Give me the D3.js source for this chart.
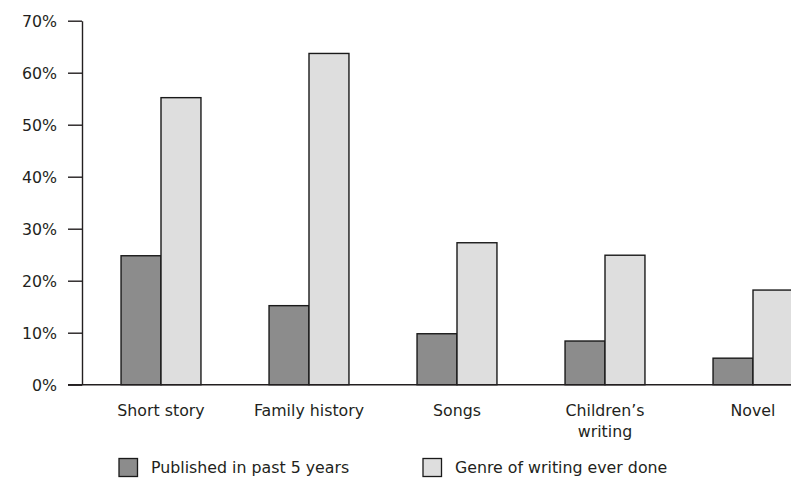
<!DOCTYPE html>
<html>
<head>
<meta charset="utf-8">
<script src="https://d3js.org/d3.v7.min.js"></script>
<style>
  body { margin: 0; background: #fff; }
  svg text { font-family: "DejaVu Sans", sans-serif; fill: #231f20; }
</style>
</head>
<body>
<svg id="chart"></svg>
<script>
// data
const categories = ["Short story", "Family history", "Songs", "Children\u2019s writing", "Novel"];
const seriesNames = ["Published in past 5 years", "Genre of writing ever done"];
const published = [24.8, 15.2, 9.8, 8.4, 5.1];
const everDone = [55.2, 63.7, 27.3, 24.9, 18.2];
const yTicks = [0, 10, 20, 30, 40, 50, 60, 70];
const colors = ["#8c8c8c", "#dedede"];

const width = 791, height = 481;
const margin = {top: 20.7, left: 82, bottom: 96.3};
const innerH = height - margin.top - margin.bottom;
const fontSize = "15.8px";

const svg = d3.select("#chart").attr("width", width).attr("height", height);

const y = d3.scaleLinear().domain([0, 70]).range([margin.top + innerH, margin.top]);
const x = d3.scaleBand().domain(categories).range([87, 827])
    .paddingInner(0.46).paddingOuter(0.23);
const xSub = d3.scaleBand().domain(seriesNames).range([0, x.bandwidth()]);

const rows = categories.map((c, i) => ({cat: c, values: [published[i], everDone[i]]}));

// bars
const groups = svg.selectAll("g.cat").data(rows).enter().append("g")
    .attr("class", "cat")
    .attr("transform", d => `translate(${x(d.cat)},0)`);

groups.selectAll("rect").data(d => d.values.map((v, i) => ({name: seriesNames[i], v: v, i: i})))
    .enter().append("rect")
    .attr("x", d => xSub(d.name))
    .attr("y", d => y(d.v))
    .attr("width", xSub.bandwidth())
    .attr("height", d => y(0) - y(d.v))
    .attr("fill", d => colors[d.i])
    .attr("stroke", "#1a1a1a")
    .attr("stroke-width", 1.4);

// y axis
const yAxis = d3.axisLeft(y).tickValues(yTicks).tickFormat(d => d + "%").tickSize(14).tickSizeOuter(0);
const yG = svg.append("g").attr("transform", `translate(${margin.left},0)`).call(yAxis);
yG.select(".domain").attr("stroke", "#231f20").attr("stroke-width", 1.4);
yG.selectAll(".tick line").attr("stroke", "#231f20").attr("stroke-width", 1.4);
yG.selectAll(".tick text").attr("x", -25).attr("dy", "0.35em")
    .style("font-size", fontSize);

// x axis baseline
svg.append("line")
    .attr("x1", margin.left - 14).attr("x2", width)
    .attr("y1", y(0)).attr("y2", y(0))
    .attr("stroke", "#231f20").attr("stroke-width", 1.6);

// category labels
const labels = svg.selectAll("text.cat-label").data(categories).enter().append("text")
    .attr("class", "cat-label")
    .attr("text-anchor", "middle")
    .attr("y", 416)
    .style("font-size", fontSize);
labels.each(function(d) {
    const cx = x(d) + x.bandwidth() / 2;
    const parts = d === "Children\u2019s writing" ? ["Children\u2019s", "writing"] : [d];
    parts.forEach((p, k) => {
        d3.select(this).append("tspan").attr("x", cx).attr("dy", k === 0 ? 0 : 21).text(p);
    });
});

// legend
const legendX = [119, 423];
const legend = svg.selectAll("g.legend").data(seriesNames).enter().append("g")
    .attr("class", "legend")
    .attr("transform", (d, i) => `translate(${legendX[i]},458.5)`);
legend.append("rect").attr("width", 18.5).attr("height", 18)
    .attr("fill", (d, i) => colors[i]).attr("stroke", "#1a1a1a").attr("stroke-width", 1.3);
legend.append("text").attr("x", 32).attr("y", 14.7).style("font-size", fontSize).text(d => d);
</script>
</body>
</html>
